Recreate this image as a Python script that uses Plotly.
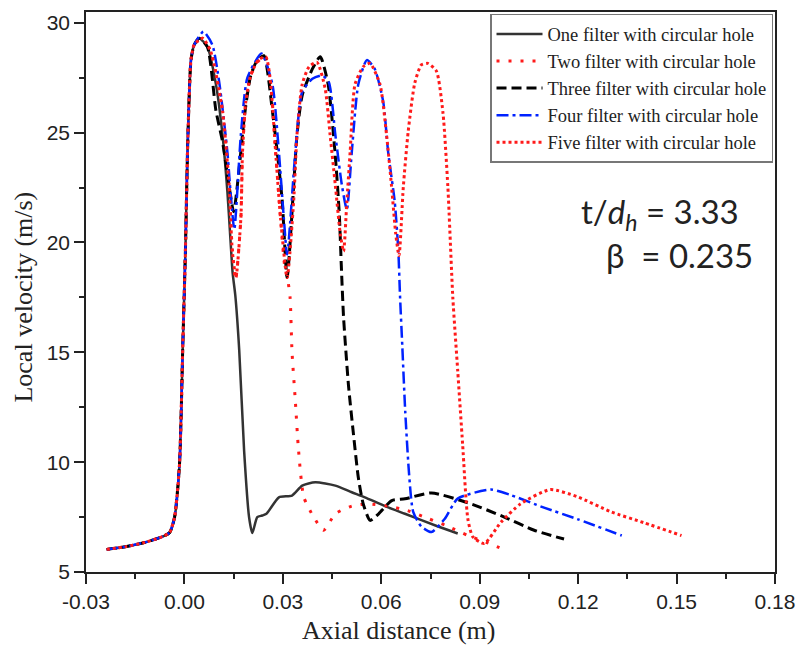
import plotly.graph_objects as go

# ---------------- data ----------------
rise_x = [-0.0237, -0.018, -0.012, -0.0065, -0.0045, -0.003, -0.0015, -0.0005, 0.0003, 0.001, 0.002, 0.003]
rise_y = [6.03, 6.15, 6.35, 6.62, 6.8, 7.5, 9.9, 15.3, 19.6, 24.5, 28.3, 29.0]

one_x = [0.0045, 0.007, 0.0096, 0.0116, 0.0131, 0.014, 0.0147, 0.0155, 0.0167, 0.0182, 0.0197, 0.0207,
         0.0222, 0.0237, 0.025, 0.0288, 0.0328, 0.0359, 0.0399, 0.046, 0.051, 0.055, 0.0611, 0.0672, 0.0773, 0.0833]
one_y = [29.3, 28.9, 27.2, 24.9, 22.3, 20.2, 18.6, 17.6, 15.1, 10.5, 7.5, 6.77,
         7.5, 7.57, 7.65, 8.4, 8.48, 8.93, 9.08, 8.93, 8.63, 8.4, 8.0, 7.65, 7.07, 6.75]

two_x = [0.0055, 0.008, 0.0116, 0.0136, 0.0146, 0.0156, 0.0172, 0.0177, 0.0187, 0.0202, 0.0222, 0.0245,
         0.0263, 0.0278, 0.0293, 0.0305, 0.0315, 0.0322, 0.0328, 0.0338, 0.0348, 0.0364, 0.0394, 0.0424,
         0.046, 0.051, 0.056, 0.062, 0.068, 0.074, 0.080, 0.0864, 0.092, 0.097]
two_y = [29.3, 28.7, 26.0, 22.6, 19.6, 18.3, 21.1, 24.1, 26.4, 27.6, 28.2, 28.5,
         27.2, 24.1, 21.1, 19.0, 18.3, 17.5, 15.0, 12.8, 10.5, 8.4, 7.5, 6.9,
         7.65, 8.0, 8.1, 8.0, 7.8, 7.45, 7.1, 6.66, 6.35, 6.05]

three_x = [0.0045, 0.007, 0.0096, 0.0116, 0.0131, 0.015, 0.0167, 0.0182, 0.0202, 0.0222, 0.0242, 0.0268,
           0.0283, 0.0298, 0.0313, 0.0333, 0.0343, 0.0359, 0.039, 0.0414, 0.0438, 0.0459, 0.0472, 0.0478,
           0.0485, 0.050, 0.0515, 0.053, 0.0545, 0.0566, 0.0592, 0.0632, 0.0672, 0.0753, 0.0874, 0.0975,
           0.1066, 0.1157]
three_y = [29.3, 28.9, 26.0, 24.6, 23.1, 21.4, 23.4, 25.65, 27.6, 28.3, 28.5, 26.0,
           24.1, 21.9, 18.4, 22.6, 24.9, 26.7, 27.9, 28.45, 27.2, 24.1, 21.3, 19.0,
           16.6, 13.5, 11.3, 9.3, 8.1, 7.35, 7.65, 8.25, 8.33, 8.6, 8.1, 7.5,
           6.9, 6.5]

four_x = [0.0058, 0.0085, 0.0106, 0.0131, 0.0141, 0.0152, 0.0172, 0.0192, 0.0235, 0.0268, 0.0288, 0.0303,
          0.0313, 0.0338, 0.0359, 0.039, 0.042, 0.044, 0.046, 0.048, 0.0495, 0.051, 0.053, 0.0556,
          0.058, 0.0606, 0.0621, 0.0641, 0.0652, 0.0657, 0.0664, 0.0673, 0.0685, 0.0697, 0.0722, 0.0753,
          0.0793, 0.0833, 0.0934, 0.0995, 0.1096, 0.1197, 0.1333]
four_y = [29.6, 29.0, 27.3, 24.1, 22.2, 20.6, 24.9, 27.5, 28.6, 27.2, 24.1, 21.1,
          19.45, 24.1, 26.85, 27.45, 27.6, 27.3, 24.9, 22.6, 21.5, 24.1, 27.2, 28.3,
          27.9, 26.4, 24.1, 21.85, 19.6, 17.6, 15.3, 12.3, 9.4, 7.75, 7.07, 6.82,
          7.41, 8.34, 8.75, 8.5, 7.93, 7.41, 6.66]

five_x = [0.0055, 0.008, 0.0116, 0.0136, 0.0146, 0.0157, 0.0172, 0.0177, 0.0187, 0.0202, 0.0225, 0.0248,
          0.0263, 0.0278, 0.0293, 0.0313, 0.0333, 0.0343, 0.0359, 0.038, 0.0404, 0.0429, 0.0444, 0.046,
          0.0475, 0.0485, 0.0495, 0.0505, 0.052, 0.0545, 0.0566, 0.0596, 0.0616, 0.0631, 0.0644, 0.0654,
          0.0667, 0.0682, 0.0702, 0.0722, 0.0742, 0.0768, 0.0788, 0.0803, 0.0818, 0.0833, 0.0848, 0.0864,
          0.0879, 0.0914, 0.0964, 0.1024, 0.1115, 0.1197, 0.1298, 0.1399, 0.1515]
five_y = [29.3, 28.7, 26.0, 22.6, 19.6, 18.4, 21.1, 24.1, 26.4, 27.6, 28.3, 28.45,
          27.2, 24.1, 21.1, 18.4, 21.9, 24.9, 27.2, 28.0, 28.2, 27.0, 24.9, 22.6,
          20.4, 19.6, 21.85, 24.1, 27.2, 28.0, 28.15, 27.2, 24.9, 22.6, 20.4, 19.4,
          22.5, 25.05, 27.25, 28.08, 28.15, 27.8, 25.9, 22.5, 17.5, 14.15, 10.8, 7.4,
          6.6, 6.3, 7.25, 8.1, 8.75, 8.43, 7.75, 7.25, 6.66]

series_names = ["One filter with circular hole", "Two filter with circular hole",
                "Three filter with circular hole", "Four filter with circular hole",
                "Five filter with circular hole"]

x_tick_vals = [-0.03, 0.0, 0.03, 0.06, 0.09, 0.12, 0.15, 0.18]
x_tick_text = ["-0.03", "0.00", "0.03", "0.06", "0.09", "0.12", "0.15", "0.18"]
y_tick_vals = [5, 10, 15, 20, 25, 30]
y_tick_text = ["5", "10", "15", "20", "25", "30"]

# ---------------- figure ----------------
styles = [
    dict(color="#333333", width=2.5, dash="solid"),
    dict(color="#ff1a1a", width=3, dash="3px,9px"),
    dict(color="#000000", width=3, dash="10px,5px"),
    dict(color="#0022ff", width=2.5, dash="12px,4px,3px,4px"),
    dict(color="#ff1a1a", width=3, dash="3px,3px"),
]
tails = [(one_x, one_y), (two_x, two_y), (three_x, three_y), (four_x, four_y), (five_x, five_y)]

fig = go.Figure()
for name, (tx, ty), st in zip(series_names, tails, styles):
    fig.add_trace(go.Scatter(
        x=rise_x + tx, y=rise_y + ty, mode="lines", name=name,
        line=dict(color=st["color"], width=st["width"], dash=st["dash"], shape="spline", smoothing=0.6),
    ))

tick_font = dict(family="Liberation Sans, Arial", size=21, color="#222222")
fig.update_layout(
    width=805, height=648,
    margin=dict(l=86, r=27, t=10, b=76),
    plot_bgcolor="white", paper_bgcolor="white",
    showlegend=True,
    legend=dict(
        x=1 - 2 / 692, y=1 - 2 / 562, xanchor="right", yanchor="top",
        bgcolor="white", bordercolor="#777777", borderwidth=1.5,
        font=dict(family="Liberation Serif, Times New Roman", size=18.5, color="#222222"),
        itemwidth=46, tracegroupgap=0,
    ),
    xaxis=dict(
        range=[-0.03, 0.18], tickvals=x_tick_vals, ticktext=x_tick_text,
        showgrid=False, zeroline=False, showline=True, linecolor="#222222", linewidth=1.5,
        mirror=True, ticks="outside", ticklen=10, tickwidth=1.5, tickcolor="#222222",
        tickfont=tick_font,
        minor=dict(dtick=0.015, tick0=-0.03, ticks="outside", ticklen=5, tickwidth=1.5, tickcolor="#222222", showgrid=False),
    ),
    yaxis=dict(
        range=[5, 30.49], tickvals=y_tick_vals, ticktext=y_tick_text,
        showgrid=False, zeroline=False, showline=True, linecolor="#222222", linewidth=1.5,
        mirror=True, ticks="outside", ticklen=10, tickwidth=1.5, tickcolor="#222222",
        tickfont=tick_font,
        minor=dict(dtick=2.5, tick0=5, ticks="outside", ticklen=5, tickwidth=1.5, tickcolor="#222222", showgrid=False),
    ),
)

title_font = dict(family="Liberation Serif, Times New Roman", size=26, color="#222222")
fig.add_annotation(text="Axial distance (m)", xref="paper", yref="paper",
                   x=(400 - 86) / 692, y=(571.7 - 630) / 562, xanchor="center", yanchor="middle",
                   showarrow=False, font=title_font)
fig.add_annotation(text="Local velocity (m/s)", xref="paper", yref="paper", textangle=-90,
                   x=(23 - 86) / 692, y=(571.7 - 296) / 562, xanchor="center", yanchor="middle",
                   showarrow=False, font=title_font)

ann_font = dict(family="Lato, Noto Sans", size=33, color="#222222")
fig.add_annotation(text="t/<i>d</i><sub><i>h</i></sub> = 3.33", xref="paper", yref="paper",
                   x=(744 - 86) / 692, y=(571.7 - 212) / 562, xanchor="right", yanchor="middle",
                   showarrow=False, font=ann_font)
fig.add_annotation(text="β&nbsp; = 0.235", xref="paper", yref="paper",
                   x=(758 - 86) / 692, y=(571.7 - 254) / 562, xanchor="right", yanchor="middle",
                   showarrow=False, font=ann_font)

fig.write_html("out.html")
